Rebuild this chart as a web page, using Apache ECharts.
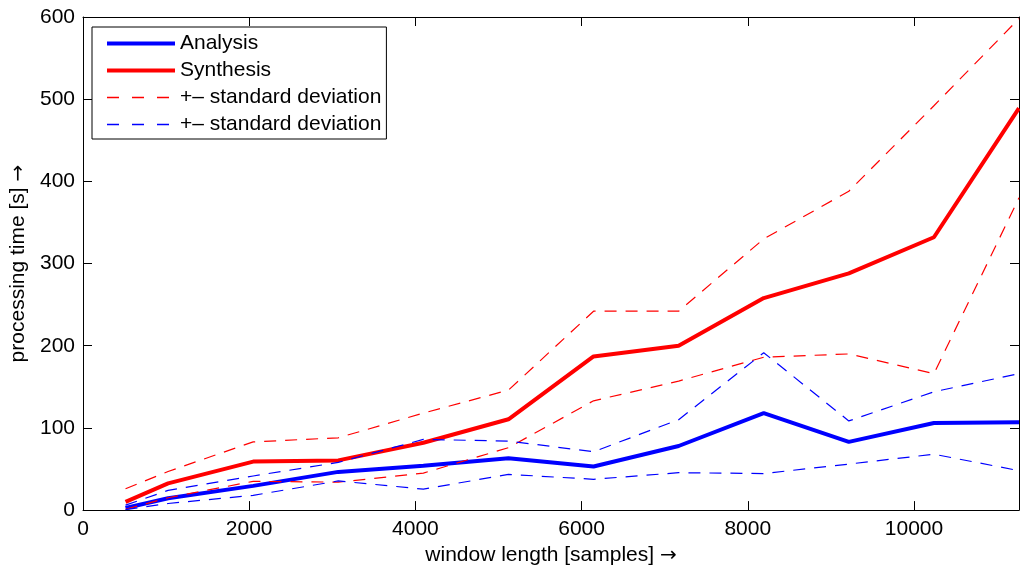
<!DOCTYPE html>
<html>
<head>
<meta charset="utf-8">
<title>Processing time vs window length</title>
<script src="https://cdn.jsdelivr.net/npm/echarts@6/dist/echarts.min.js"></script>
<style>
  html, body { margin: 0; padding: 0; background: #ffffff; }
  #chart { width: 1020px; height: 571px; }
</style>
</head>
<body>
<div id="chart"></div>
<script>
// Window lengths (samples) at which processing time was measured
const windowLengths = [512, 1024, 2048, 3072, 4096, 5120, 6144, 7168, 8192, 9216, 10240, 11264];

// Mean processing time [s]
const analysisMean  = [2.5, 14.5, 29.5, 46.5, 54, 63, 53, 78, 118, 83, 106, 107];
const synthesisMean = [10, 32.5, 59, 60.5, 82, 110.5, 187, 200, 258, 288, 332, 489];

// Mean +/- one standard deviation [s]
const synthesisUpper = [26, 47, 83, 88, 118, 146, 242, 242, 330, 388, 492, 598];
const synthesisLower = [1, 15, 35, 34, 45, 76, 133, 157, 186, 190, 166, 380];
const analysisUpper  = [6, 24, 41.5, 58, 86, 84, 71, 110, 191.5, 108.5, 144, 166];
const analysisLower  = [0.5, 8, 18, 35.5, 25.5, 43.5, 37.5, 45.5, 44.5, 56, 68, 48];

// Axis ranges and tick steps
const xRange = [0, 11264];
const xStep = 2000;
const yRange = [0, 600];
const yStep = 100;

// Legend labels
const legendLabels = {
  analysis: 'Analysis',
  synthesis: 'Synthesis',
  sdSynthesis: '+\u2013 standard deviation',
  sdAnalysis: '+\u2013 standard deviation'
};

const FONT = "'Liberation Sans', Arial, Helvetica, sans-serif";
const ARROW_FONT = "'DejaVu Sans', sans-serif";
const FONT_SIZE = 21;
const RED = '#ff0000';
const BLUE = '#0000ff';
const DASH = [12, 9];
const LEGEND_DASH = [12, 13];

function pairs(values) {
  return windowLengths.map((x, i) => [x, values[i]]);
}

function solid(name, color, values) {
  return {
    name, type: 'line', data: pairs(values), color,
    symbol: 'none', z: 3,
    lineStyle: { color, width: 4, type: 'solid' },
    itemStyle: { color },
    silent: true, animation: false
  };
}

function dashed(name, color, values) {
  return {
    name, type: 'line', data: pairs(values), color,
    symbol: 'none', z: 4,
    lineStyle: { color, width: 1.2, type: DASH },
    itemStyle: { color },
    silent: true, animation: false
  };
}

function legendItem(name, color, width, type) {
  return {
    name,
    itemStyle: { color, opacity: 0 },
    lineStyle: { color, width, type, opacity: 1 }
  };
}

const axisLineStyle = { color: '#000000', width: 1 };
const tickStyle = { show: true, inside: true, length: 9, lineStyle: { color: '#000000', width: 1 } };

// Axis titles: body text plus a wider arrow glyph
const nameRich = {
  t: { fontFamily: FONT, fontSize: FONT_SIZE, color: '#000000' },
  a: { fontFamily: ARROW_FONT, fontSize: 20, color: '#000000' }
};

const chart = echarts.init(document.getElementById('chart'), null, { renderer: 'canvas' });

chart.setOption({
  backgroundColor: '#ffffff',
  animation: false,
  textStyle: { fontFamily: FONT },
  grid: { left: 82, right: 1, top: 17, bottom: 60, containLabel: false },
  legend: {
    orient: 'vertical',
    left: 92, top: 27,
    data: [
      legendItem('analysis', BLUE, 4, 'solid'),
      legendItem('synthesis', RED, 4, 'solid'),
      legendItem('sdSynthesis', RED, 1.3, LEGEND_DASH),
      legendItem('sdAnalysis', BLUE, 1.3, LEGEND_DASH)
    ],
    formatter: (n) => legendLabels[n],
    itemWidth: 68, itemHeight: 14, itemGap: 6,
    padding: [6, 5, 4, 13],
    borderColor: '#000000', borderWidth: 1,
    backgroundColor: '#ffffff',
    textStyle: { fontFamily: FONT, fontSize: FONT_SIZE, color: '#000000', lineHeight: 21 },
    selectedMode: false
  },
  xAxis: [
    {
      type: 'value', position: 'bottom',
      min: xRange[0], max: xRange[1], interval: xStep,
      name: '{t|window length [samples]} {a|\u2192}',
      nameLocation: 'middle', nameGap: 25,
      nameTextStyle: { fontFamily: FONT, fontSize: FONT_SIZE, color: '#000000', rich: nameRich },
      axisLine: { show: true, onZero: false, lineStyle: axisLineStyle },
      axisTick: tickStyle,
      axisLabel: {
        fontFamily: FONT, fontSize: FONT_SIZE, color: '#000000', margin: 9,
        showMaxLabel: false, formatter: (v) => String(v)
      },
      splitLine: { show: false }
    },
    {
      type: 'value', position: 'top',
      min: xRange[0], max: xRange[1], interval: xStep,
      axisLine: { show: true, onZero: false, lineStyle: axisLineStyle },
      axisTick: tickStyle,
      axisLabel: { show: false },
      splitLine: { show: false }
    }
  ],
  yAxis: [
    {
      type: 'value', position: 'left',
      min: yRange[0], max: yRange[1], interval: yStep,
      name: '{t|processing time [s]} {a|\u2192}',
      nameLocation: 'middle', nameGap: 54, nameRotate: 90,
      nameTextStyle: { fontFamily: FONT, fontSize: FONT_SIZE, color: '#000000', rich: nameRich },
      axisLine: { show: true, onZero: false, lineStyle: axisLineStyle },
      axisTick: tickStyle,
      axisLabel: { fontFamily: FONT, fontSize: FONT_SIZE, color: '#000000', margin: 8, formatter: (v) => String(v) },
      splitLine: { show: false }
    },
    {
      type: 'value', position: 'right',
      min: yRange[0], max: yRange[1], interval: yStep,
      axisLine: { show: true, onZero: false, lineStyle: axisLineStyle },
      axisTick: tickStyle,
      axisLabel: { show: false },
      splitLine: { show: false }
    }
  ],
  series: [
    solid('analysis', BLUE, analysisMean),
    solid('synthesis', RED, synthesisMean),
    dashed('sdSynthesis', RED, synthesisUpper),
    dashed('sdSynthesis', RED, synthesisLower),
    dashed('sdAnalysis', BLUE, analysisUpper),
    dashed('sdAnalysis', BLUE, analysisLower)
  ]
});
</script>
</body>
</html>
